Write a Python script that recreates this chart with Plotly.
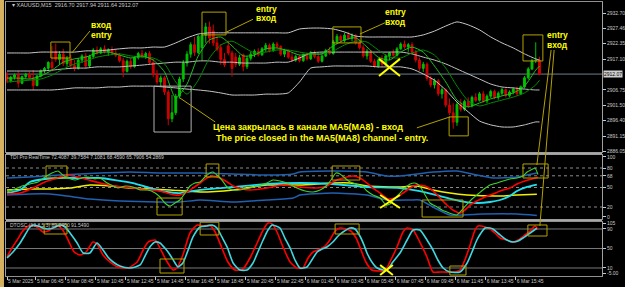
import plotly.graph_objects as go
from plotly.subplots import make_subplots

# ---------------- price candles (M15 XAUUSD) ----------------
OPEN = [2911.5, 2909.8, 2911.0, 2911.8, 2909.0, 2911.2, 2912.0, 2910.8, 2908.2, 2911.4,
        2913.2, 2914.0, 2916.0, 2919.8, 2917.0, 2918.8, 2915.6, 2917.4, 2915.0, 2914.0,
        2916.8, 2918.2, 2914.8, 2918.0, 2920.2, 2919.2, 2920.6, 2919.6, 2920.2, 2919.2,
        2918.4, 2916.6, 2913.0, 2916.4, 2914.6, 2917.6, 2919.0, 2918.0, 2919.0, 2916.0,
        2912.0, 2909.4, 2910.8, 2906.0, 2897.0, 2899.0, 2904.6, 2910.4, 2915.8, 2918.8,
        2922.0, 2919.4, 2921.0, 2925.2, 2928.0, 2926.6, 2922.6, 2921.0, 2917.0, 2921.6,
        2919.2, 2917.8, 2915.4, 2918.6, 2914.6, 2917.4, 2918.8, 2919.8, 2918.6, 2920.6,
        2921.8, 2920.0, 2922.2, 2921.4, 2918.8, 2920.0, 2917.8, 2916.8, 2918.0, 2916.6,
        2918.6, 2917.2, 2919.4, 2918.0, 2916.4, 2918.2, 2920.0, 2919.0, 2923.0, 2924.8,
        2923.4, 2925.2, 2924.2, 2925.0, 2922.6, 2921.0, 2918.2, 2919.8, 2916.4, 2914.8,
        2916.8, 2915.4, 2918.2, 2919.2, 2918.4, 2920.6, 2922.2, 2921.2, 2922.0, 2919.4,
        2916.8, 2914.0, 2915.4, 2910.6, 2908.4, 2909.8, 2905.4, 2906.8, 2901.6, 2899.0,
        2895.8, 2901.8, 2900.2, 2902.8, 2901.4, 2904.2, 2903.2, 2905.4, 2903.0, 2904.6,
        2906.2, 2904.2, 2905.6, 2906.8, 2904.8, 2906.0, 2907.0, 2905.4, 2907.8, 2910.8,
        2913.8, 2916.6, 2916.70]
HIGH = [2912.8, 2911.5, 2912.3, 2913.2, 2911.6, 2912.5, 2913.0, 2913.4, 2911.8, 2913.6,
        2914.5, 2916.4, 2921.5, 2922.4, 2919.8, 2920.6, 2918.2, 2918.6, 2916.8, 2917.4,
        2918.8, 2919.2, 2918.6, 2920.8, 2921.4, 2921.2, 2921.8, 2920.8, 2921.4, 2920.4,
        2919.2, 2917.6, 2917.0, 2917.4, 2918.2, 2919.6, 2920.2, 2919.6, 2919.8, 2917.2,
        2913.4, 2911.6, 2911.4, 2906.8, 2905.0, 2905.4, 2911.2, 2916.8, 2919.8, 2922.8,
        2924.6, 2925.4, 2926.0, 2929.4, 2929.8, 2928.8, 2924.8, 2922.2, 2919.2, 2923.4,
        2920.0, 2919.2, 2918.6, 2919.0, 2918.2, 2919.6, 2920.4, 2920.8, 2921.2, 2922.6,
        2922.4, 2922.8, 2923.0, 2921.8, 2920.6, 2920.4, 2919.2, 2918.6, 2918.6, 2919.0,
        2919.4, 2919.8, 2920.0, 2919.2, 2918.8, 2920.6, 2921.2, 2923.6, 2925.6, 2925.4,
        2926.0, 2926.4, 2925.8, 2925.6, 2923.8, 2921.8, 2920.6, 2920.2, 2917.2, 2917.6,
        2918.4, 2918.8, 2919.6, 2920.4, 2921.2, 2922.8, 2923.4, 2922.6, 2922.8, 2920.2,
        2917.6, 2916.2, 2916.0, 2911.4, 2910.6, 2910.4, 2907.6, 2907.2, 2903.8, 2902.2,
        2902.6, 2903.6, 2903.4, 2904.2, 2904.8, 2905.6, 2906.0, 2906.4, 2905.2, 2906.8,
        2906.8, 2906.2, 2907.4, 2907.2, 2906.6, 2907.6, 2907.8, 2908.2, 2911.4, 2914.4,
        2917.2, 2922.8, 2917.94]
LOW = [2909.0, 2909.2, 2910.2, 2907.5, 2908.6, 2910.5, 2910.4, 2906.8, 2907.9, 2911.0,
       2912.4, 2913.5, 2913.0, 2916.2, 2915.2, 2914.8, 2914.6, 2914.2, 2913.0, 2913.6,
       2915.8, 2913.8, 2914.2, 2917.4, 2918.6, 2918.8, 2919.0, 2918.2, 2918.8, 2917.8,
       2916.0, 2911.0, 2912.6, 2913.8, 2914.2, 2917.0, 2917.4, 2917.2, 2915.4, 2911.0,
       2908.6, 2908.0, 2905.0, 2894.8, 2895.8, 2898.2, 2903.8, 2909.4, 2914.6, 2917.6,
       2918.2, 2918.8, 2916.6, 2922.6, 2922.4, 2921.6, 2919.8, 2915.2, 2914.4, 2918.4,
       2911.2, 2914.4, 2914.8, 2913.0, 2913.8, 2916.6, 2917.8, 2918.0, 2918.2, 2919.6,
       2919.4, 2919.6, 2920.8, 2918.2, 2917.8, 2917.2, 2916.2, 2916.2, 2916.0, 2916.2,
       2916.6, 2916.8, 2917.4, 2915.8, 2916.0, 2917.8, 2918.6, 2918.6, 2922.2, 2922.6,
       2922.8, 2923.6, 2923.2, 2922.0, 2920.4, 2917.6, 2917.0, 2915.8, 2914.2, 2914.2,
       2914.6, 2914.8, 2916.8, 2917.8, 2918.0, 2920.2, 2920.6, 2919.6, 2918.8, 2916.0,
       2913.2, 2912.8, 2909.8, 2907.6, 2907.2, 2904.6, 2903.8, 2900.8, 2898.2, 2893.6,
       2894.6, 2899.4, 2899.6, 2900.6, 2900.8, 2902.6, 2902.8, 2902.4, 2902.2, 2904.0,
       2903.6, 2903.4, 2904.8, 2904.2, 2904.2, 2905.2, 2904.8, 2905.0, 2907.2, 2910.2,
       2913.4, 2915.8, 2911.64]
CLOSE = [2909.8, 2911.0, 2911.8, 2909.0, 2911.2, 2912.0, 2910.8, 2908.2, 2911.4, 2913.2,
         2914.0, 2916.0, 2914.2, 2917.0, 2918.8, 2915.6, 2917.4, 2915.0, 2914.0, 2916.8,
         2918.2, 2914.8, 2918.0, 2920.2, 2919.2, 2920.6, 2919.6, 2920.2, 2919.2, 2918.4,
         2916.6, 2913.0, 2916.4, 2914.6, 2917.6, 2919.0, 2918.0, 2919.0, 2916.0, 2912.0,
         2909.4, 2910.8, 2906.0, 2897.0, 2899.0, 2904.6, 2910.4, 2915.8, 2918.8, 2922.0,
         2919.4, 2924.8, 2925.2, 2928.0, 2924.2, 2922.6, 2920.4, 2917.0, 2915.2, 2919.2,
         2914.0, 2915.4, 2917.6, 2914.6, 2917.4, 2918.8, 2919.8, 2918.6, 2920.6, 2921.8,
         2920.0, 2922.2, 2921.4, 2918.8, 2920.0, 2917.8, 2916.8, 2918.0, 2916.6, 2918.6,
         2917.2, 2919.4, 2918.0, 2916.4, 2918.2, 2920.0, 2919.0, 2923.0, 2924.8, 2923.4,
         2925.2, 2924.2, 2925.0, 2922.6, 2921.0, 2918.2, 2919.8, 2916.4, 2914.8, 2916.8,
         2915.4, 2918.2, 2919.2, 2918.4, 2920.6, 2922.2, 2921.2, 2922.0, 2919.4, 2916.8,
         2914.0, 2915.4, 2910.6, 2908.4, 2909.8, 2905.4, 2906.8, 2901.6, 2899.0, 2895.8,
         2901.8, 2900.2, 2902.8, 2901.4, 2904.2, 2903.2, 2905.4, 2903.0, 2904.6, 2906.2,
         2904.2, 2905.6, 2906.8, 2904.8, 2906.0, 2907.0, 2905.4, 2907.8, 2910.8, 2913.8,
         2916.6, 2916.7, 2912.07]
BAR_IDX = list(range(len(CLOSE)))

# ---------------- envelope / moving averages (price pane) ----------------
BAND_IDX = [0, 3, 6, 9, 12, 15, 18, 21, 24, 27, 30, 33, 36, 39, 42, 45, 48, 51, 54, 57,
            60, 63, 66, 69, 72, 75, 78, 81, 84, 87, 90, 93, 96, 99, 102, 105, 108, 111,
            114, 117, 120, 123, 126, 129, 132, 135, 138, 141, 142]
BB_UPPER = [2919.2, 2919.2, 2919.2, 2919.5, 2919.5, 2919.5, 2919.5, 2919.9, 2919.9, 2920.2,
            2920.6, 2920.9, 2920.9, 2921.2, 2921.2, 2922.6, 2924.3, 2925.6, 2926.0, 2926.0,
            2926.0, 2926.0, 2926.0, 2926.0, 2926.0, 2926.0, 2927.3, 2927.6, 2927.6, 2927.3,
            2926.3, 2924.9, 2924.6, 2924.6, 2924.6, 2924.6, 2924.6, 2925.3, 2926.6, 2928.3,
            2929.7, 2928.7, 2927.0, 2924.6, 2922.6, 2920.9, 2918.9, 2917.2, 2916.8]
BB_MID = [2913.1, 2913.1, 2913.1, 2913.1, 2913.4, 2913.8, 2914.1, 2914.1, 2914.5, 2914.5,
          2914.5, 2914.8, 2915.1, 2915.5, 2915.8, 2916.1, 2916.1, 2916.5, 2916.5, 2916.1,
          2916.1, 2915.8, 2915.8, 2915.8, 2916.1, 2916.1, 2917.5, 2919.2, 2919.5, 2919.5,
          2919.5, 2919.5, 2919.5, 2919.5, 2919.5, 2919.5, 2918.9, 2917.8, 2916.8, 2915.5,
          2913.8, 2912.1, 2910.4, 2908.7, 2907.7, 2907.4, 2907.0, 2906.7, 2906.7]
BB_LOWER = [2906.7, 2906.7, 2906.7, 2906.7, 2906.7, 2907.0, 2907.4, 2907.4, 2907.4, 2907.7,
            2907.7, 2908.0, 2908.0, 2908.0, 2907.7, 2907.4, 2907.0, 2906.7, 2906.3, 2905.7,
            2905.0, 2905.0, 2905.0, 2905.3, 2905.3, 2905.7, 2909.4, 2914.1, 2914.5, 2914.8,
            2914.8, 2914.8, 2914.8, 2914.5, 2914.5, 2914.5, 2913.8, 2912.1, 2910.0, 2906.7,
            2902.6, 2899.3, 2896.2, 2894.9, 2894.2, 2894.2, 2894.9, 2895.9, 2895.9]
MA5 = [2910.7, 2910.7, 2910.4, 2911.4, 2913.4, 2916.1, 2917.2, 2917.8, 2919.2, 2919.5,
       2918.5, 2917.5, 2918.2, 2916.8, 2912.8, 2904.0, 2908.7, 2918.2, 2923.6, 2924.6,
       2921.6, 2918.2, 2918.5, 2920.6, 2920.9, 2919.9, 2918.5, 2918.9, 2918.9, 2921.6,
       2923.6, 2924.3, 2921.2, 2917.8, 2916.8, 2919.5, 2921.2, 2919.5, 2914.8, 2909.4,
       2903.3, 2901.0, 2902.3, 2903.7, 2904.7, 2905.7, 2908.0, 2913.4, 2914.8]
MA8 = [2909.4, 2909.7, 2910.0, 2910.4, 2911.7, 2913.8, 2915.5, 2916.5, 2917.8, 2918.5,
       2918.9, 2918.2, 2917.8, 2917.5, 2915.5, 2909.4, 2905.3, 2910.0, 2917.5, 2921.9,
       2923.2, 2921.2, 2919.2, 2919.5, 2920.2, 2920.2, 2919.5, 2918.9, 2918.9, 2919.9,
       2921.9, 2923.2, 2922.9, 2920.2, 2917.8, 2917.5, 2919.2, 2920.2, 2918.5, 2914.1,
       2908.0, 2903.0, 2901.3, 2902.3, 2903.3, 2904.3, 2905.7, 2908.4, 2910.0]
BID = 2912.07
PRICE_TICKS = [2932.70, 2927.46, 2922.35, 2917.10, 2906.75, 2901.50, 2896.40, 2891.15, 2886.05]

# ---------------- TDI ----------------
TDI_RSI_X = [0.0, 2.1, 4.0, 6.1, 8.3, 10.1, 12.0, 13.6, 14.9, 16.3, 18.1, 20.0, 21.6, 23.5, 24.8,
             26.7, 28.3, 29.6, 31.5, 33.6, 35.5, 37.6, 39.5, 40.8, 42.1, 43.5, 44.8, 46.1, 47.5,
             48.8, 50.1, 51.5, 52.8, 54.1, 54.9, 56.3, 57.3, 58.7, 60.3, 62.1, 64.8, 66.9, 69.3,
             70.9, 72.8, 74.7, 77.3, 79.5, 81.6, 83.5, 85.1, 86.4, 87.7, 88.8, 90.1, 91.5, 93.1,
             94.7, 96.0, 97.6, 99.5, 101.1, 102.1, 103.5, 104.8, 106.1, 107.5, 108.8, 110.1,
             111.5, 112.8, 114.7, 116.0, 117.3, 118.7, 120.0, 121.3, 122.7, 124.0, 125.3, 126.9,
             128.8, 130.7, 132.3, 134.1, 136.0, 137.6, 138.7, 139.7, 140.8, 141.6]
TDI_RSI = [43.1, 47.7, 52.3, 55.4, 58.5, 66.2, 72.3, 75.4, 69.2, 64.6, 61.5, 64.6, 66.2, 63.1, 64.6,
           56.9, 52.3, 49.2, 52.3, 50.8, 46.2, 46.2, 41.5, 35.4, 26.2, 21.5, 26.2, 30.8, 41.5,
           52.3, 56.9, 58.5, 66.2, 72.3, 73.8, 67.7, 61.5, 50.8, 46.2, 46.2, 49.2, 52.3, 56.9,
           61.5, 60.0, 56.9, 49.2, 44.6, 43.1, 46.2, 52.3, 61.5, 72.3, 70.8, 64.6, 58.5, 55.4,
           52.3, 44.6, 38.5, 33.8, 23.1, 24.6, 33.8, 41.5, 49.2, 55.4, 56.9, 52.3,
           38.5, 26.2, 20.0, 15.4, 12.3, 9.2, 7.7, 15.4, 24.6, 32.3, 38.5, 46.2,
           53.8, 56.9, 60.0, 63.1, 64.6, 67.7, 73.8, 76.9, 80.0, 70.0]
TDI_SIG_X = [0.0, 3.5, 6.9, 10.1, 13.3, 16.0, 17.6, 20.8, 24.8, 28.8, 33.6, 38.1, 40.8, 42.7, 44.8,
             46.1, 48.0, 49.6, 51.5, 53.3, 54.9, 56.8, 58.7, 60.3, 62.7, 64.8, 67.5, 69.3, 73.6,
             78.1, 82.7, 85.3, 86.9, 89.6, 92.3, 94.1, 96.0, 97.6, 99.5, 101.6, 103.5, 105.6,
             107.5, 109.3, 111.5, 113.3, 115.5, 117.3, 118.9, 120.8, 122.1, 123.5, 125.3, 127.5,
             129.6, 131.5, 134.1, 136.0, 138.1, 140.0, 141.6]
TDI_SIG = [40.0, 41.5, 49.2, 58.5, 64.6, 69.2, 67.7, 63.1, 56.9, 52.3, 49.2, 46.2, 44.6, 41.5, 38.5,
           38.5, 43.1, 49.2, 56.9, 64.6, 67.7, 64.6, 58.5, 52.3, 47.7, 46.2, 47.7, 49.2, 53.8,
           50.8, 49.2, 52.3, 58.5, 64.6, 67.7, 64.6, 56.9, 49.2, 41.5, 32.3, 33.8, 41.5,
           49.2, 53.8, 52.3, 46.2, 33.8, 23.1, 15.4, 10.8, 15.4, 23.1, 29.2, 35.4,
           40.0, 44.6, 49.2, 55.4, 60.0, 63.1, 65.8]
TDI_MB_X = [0.0, 3.5, 6.1, 10.1, 14.1, 19.5, 24.8, 28.8, 33.6, 38.1, 42.7, 46.1, 51.5, 60.3, 69.3,
            78.1, 86.9, 96.0, 104.8, 110.1, 115.5, 120.8, 125.3, 128.8, 131.5, 134.1, 136.0,
            138.7, 141.3]
TDI_MB = [41.5, 46.2, 58.5, 63.1, 64.6, 64.6, 64.6, 61.5, 56.9, 49.2, 43.1, 41.5, 46.2, 50.8, 55.4,
          56.9, 55.4, 50.8, 49.2, 44.6, 36.9, 29.2, 26.2, 27.7, 30.8, 36.9, 44.6, 50.8, 54.3]
TDI_YEL_X = [0.0, 6.1, 11.5, 16.8, 22.1, 27.5, 32.8, 38.1, 43.5, 51.5, 60.3, 69.3, 78.1, 86.9,
             91.5, 96.0, 104.8, 109.3, 113.6, 118.1, 122.7, 131.5, 136.0, 141.3]
TDI_YEL = [46.2, 47.7, 47.7, 49.2, 53.8, 52.3, 49.2, 47.7, 46.2, 43.1, 46.2, 53.8, 53.8, 56.9,
           56.9, 52.3, 50.8, 52.3, 46.2, 41.5, 38.5, 36.9, 38.5, 39.8]
TDI_UP_X = [0.0, 6.1, 14.1, 24.8, 32.8, 40.8, 51.5, 60.3, 69.3, 76.3, 78.1, 86.9, 96.0, 101.3,
            104.8, 113.6, 120.0, 125.3, 129.6, 136.0, 141.3]
TDI_UP = [64.6, 66.2, 69.2, 72.3, 73.8, 72.3, 72.3, 70.8, 69.2, 70.8, 73.8, 75.4, 73.8, 67.7,
          67.7, 73.8, 75.4, 69.2, 64.6, 66.2, 72.4]
TDI_LO_X = [0.0, 6.1, 11.5, 16.0, 22.1, 30.1, 40.0, 46.1, 51.5, 60.3, 69.3, 76.3, 78.1, 86.9,
            96.0, 101.3, 107.5, 110.1, 114.1, 118.1, 126.9, 136.0, 141.3]
TDI_LO = [38.5, 40.0, 40.0, 36.9, 32.3, 29.2, 27.7, 27.7, 30.8, 27.7, 30.8, 33.8, 38.5, 41.5,
          38.5, 30.8, 30.8, 30.8, 18.5, 7.7, 9.2, 9.2, 7.1]
TDI_LEVELS = [80, 68, 50, 20]
TDI_TICKS = [97, 80, 68, 50, 20, 5]
TDI_TICKTEXT = ["100", "80", "68", "50", "20", "0"]

# ---------------- DTOSC ----------------
DT_MAIN_X = [0.0, 1.3, 2.7, 4.0, 5.3, 6.4, 7.7, 9.6, 10.9, 12.3, 13.6, 14.7, 16.3, 17.9, 19.5,
             21.1, 22.9, 24.0, 25.6, 27.5, 29.6, 32.3, 34.7, 36.3, 37.6, 39.5, 40.8, 42.4, 44.3,
             45.3, 46.9, 48.8, 50.7, 52.3, 54.1, 55.5, 57.3, 58.9, 60.8, 62.9, 64.8, 66.7, 68.3,
             69.6, 70.7, 72.0, 73.6, 75.5, 77.3, 78.9, 80.3, 81.6, 82.9, 84.8, 86.1, 87.5, 88.8,
             90.4, 91.7, 93.1, 94.4, 95.7, 97.3, 99.5, 100.8, 102.1, 104.0, 105.6, 106.7, 108.3,
             110.1, 112.0, 113.6, 115.5, 118.9, 120.8, 122.1, 123.5, 124.8, 125.6, 127.5, 128.8,
             130.4, 131.5, 133.3, 134.9, 136.3, 138.1, 139.5, 140.8, 141.6]
DT_MAIN = [32.6, 51.0, 67.4, 83.8, 94.1, 98.2, 96.2, 83.8, 85.9, 92.1, 96.2, 90.0, 67.4, 42.8, 36.7,
           42.8, 63.3, 59.2, 36.7, 22.3, 12.1, 10.0, 22.3, 46.9, 63.3, 67.4, 51.0, 26.4, 5.9,
           10.0, 36.7, 81.8, 98.2, 96.2, 98.2, 83.8, 51.0, 22.3, 5.9, 8.0, 30.5, 61.3, 87.9,
           102.3, 100.3, 83.8, 53.1, 22.3, 10.0, 10.0, 30.5, 42.8, 46.9, 55.1, 67.4, 85.9, 92.1,
           90.0, 85.9, 71.5, 46.9, 22.3, 5.9, 3.8, 3.8, 22.3, 53.1, 83.8, 92.1, 87.9,
           63.3, 32.6, 1.8, 1.8, 1.8, 5.9, 26.4, 57.2, 87.9, 96.2, 94.1, 90.0,
           79.7, 71.5, 67.4, 63.3, 67.4, 77.7, 85.9, 96.2, 89.0]
DT_SIG_X = [0.0, 1.6, 3.5, 4.8, 6.1, 6.9, 8.3, 9.6, 10.9, 12.3, 14.1, 15.5, 16.8, 18.7, 20.3,
            22.1, 24.0, 25.6, 26.9, 28.3, 30.1, 32.8, 35.5, 36.8, 38.1, 39.5, 40.8, 42.1, 43.5,
            44.8, 45.6, 46.9, 48.3, 49.6, 51.5, 53.3, 54.7, 56.0, 57.3, 58.7, 60.3, 62.1, 64.0,
            65.6, 66.9, 68.3, 69.6, 70.7, 71.7, 72.8, 74.1, 75.5, 76.8, 78.1, 80.0, 81.3, 82.7,
            84.0, 85.3, 86.9, 88.3, 89.6, 91.5, 92.8, 94.1, 95.2, 96.0, 97.3, 98.7, 100.3,
            101.3, 102.9, 104.8, 106.7, 108.3, 110.1, 112.0, 113.6, 114.9, 116.3, 118.1, 120.8,
            122.7, 124.0, 125.3, 126.4, 127.5, 128.8, 129.6, 131.5, 133.3, 134.9, 136.3, 137.6,
            139.5, 141.3]
DT_SIG = [30.5, 42.8, 61.3, 77.7, 94.1, 98.2, 96.2, 92.1, 90.0, 92.1, 98.2, 94.1, 81.8, 61.3, 40.8,
          40.8, 61.3, 46.9, 32.6, 22.3, 14.1, 10.0, 16.2, 34.6, 53.1, 63.3, 61.3, 51.0, 36.7,
          20.3, 12.1, 20.3, 46.9, 73.6, 94.1, 96.2, 98.2, 92.1, 73.6, 53.1, 20.3, 5.9, 5.9,
          20.3, 42.8, 67.4, 87.9, 98.2, 96.2, 92.1, 71.5, 51.0, 26.4, 10.0, 12.1, 26.4, 42.8,
          49.0, 53.1, 63.3, 75.6, 83.8, 92.1, 90.0, 75.6, 57.2, 40.8, 22.3, 10.0, 5.9,
          5.9, 22.3, 40.8, 67.4, 87.9, 87.9, 67.4, 46.9, 26.4, 10.0, 1.8, 1.8,
          20.3, 42.8, 67.4, 81.8, 92.1, 92.1, 90.0, 77.7, 67.4, 63.3, 65.4, 71.5,
          81.8, 91.5]
DT_LEVELS = [90, 50, 10]
DT_TICKS = [102, 90, 50, 10, -1.5]
DT_TICKTEXT = ["105", "90", "50", "10", "-5.00"]

# ---------------- time axis ----------------
TICK_IDX = [0, 7.7, 15.7, 23.7, 31.7, 39.7, 47.7, 55.7, 63.7, 71.7, 79.7, 87.7, 95.7, 103.7,
            111.7, 119.7, 127.7, 135.7]
TICK_LABELS = ["5 Mar 2025", "5 Mar 06:45", "5 Mar 08:45", "5 Mar 10:45", "5 Mar 12:45",
               "5 Mar 14:45", "5 Mar 16:45", "5 Mar 18:45", "5 Mar 20:45", "5 Mar 22:45",
               "6 Mar 01:45", "6 Mar 03:45", "6 Mar 05:45", "6 Mar 07:45", "6 Mar 09:45",
               "6 Mar 11:45", "6 Mar 13:45", "6 Mar 15:45"]

# ---------------- figure ----------------
FONT = "Liberation Sans, Arial, sans-serif"
AXC = "#C8C8C8"
fig = make_subplots(rows=3, cols=1, shared_xaxes=True, vertical_spacing=0.0)

fig.add_trace(go.Candlestick(
    x=BAR_IDX, open=OPEN, high=HIGH, low=LOW, close=CLOSE, whiskerwidth=0,
    increasing=dict(line=dict(color="#00C000", width=1), fillcolor="#00C000"),
    decreasing=dict(line=dict(color="#D00000", width=1), fillcolor="#D00000")), row=1, col=1)

for ys, col in [(BB_UPPER, "#C8C8C8"), (BB_MID, "#C0C0C0"), (BB_LOWER, "#C8C8C8"),
                (MA8, "#008C00"), (MA5, "#20C020")]:
    fig.add_trace(go.Scatter(x=BAND_IDX, y=ys, mode="lines", line=dict(color=col, width=1, shape="spline", smoothing=0.6)), row=1, col=1)

for xs, ys, col, w in [(TDI_UP_X, TDI_UP, "#2060B0", 1.5), (TDI_LO_X, TDI_LO, "#2060B0", 1.5),
                       (TDI_YEL_X, TDI_YEL, "#F0F000", 1.5), (TDI_MB_X, TDI_MB, "#20E0F0", 1.8),
                       (TDI_SIG_X, TDI_SIG, "#FF0000", 1.6), (TDI_RSI_X, TDI_RSI, "#40D030", 1.1)]:
    fig.add_trace(go.Scatter(x=xs, y=ys, mode="lines", line=dict(color=col, width=w, shape="spline", smoothing=0.5)), row=2, col=1)

for xs, ys, col in [(DT_MAIN_X, DT_MAIN, "#FF0000"), (DT_SIG_X, DT_SIG, "#40D8E0")]:
    fig.add_trace(go.Scatter(x=xs, y=ys, mode="lines", line=dict(color=col, width=1.6, shape="spline", smoothing=0.6)), row=3, col=1)

XR = [-0.27, 158.67]
fig.update_layout(
    width=625, height=287, margin=dict(l=6, r=23, t=2, b=11, autoexpand=False),
    paper_bgcolor="black", plot_bgcolor="black", showlegend=False,
    font=dict(family=FONT, color=AXC, size=5.5),
)
common_x = dict(range=XR, showgrid=False, zeroline=False, showline=True, linecolor="#909090",
                mirror=True, rangeslider=dict(visible=False), fixedrange=True, automargin=False)
fig.update_xaxes(**common_x)
fig.update_xaxes(showticklabels=False, ticks="", row=1, col=1)
fig.update_xaxes(showticklabels=False, ticks="", row=2, col=1)
fig.update_xaxes(tickvals=TICK_IDX, ticktext=TICK_LABELS, ticks="outside", ticklen=3,
                 tickangle=0, tickcolor=AXC, ticklabelposition="outside right",
                 tickfont=dict(size=5, color=AXC, family=FONT), row=3, col=1)

ycommon = dict(side="right", showgrid=False, zeroline=False, showline=True, linecolor="#A0A0A0",
               mirror=True, ticks="outside", ticklen=3, tickcolor=AXC, automargin=False,
               tickfont=dict(size=5, color=AXC, family=FONT))
fig.update_layout(
    yaxis=dict(domain=[0.4526, 1.0], range=[2885.75, 2936.42],
               tickvals=PRICE_TICKS, ticktext=[f"{v:.2f}" for v in PRICE_TICKS], **ycommon),
    yaxis2=dict(domain=[0.2080, 0.4416], range=[1.54, 100.0],
                tickvals=TDI_TICKS, ticktext=TDI_TICKTEXT, **ycommon),
    yaxis3=dict(domain=[0.0, 0.1971], range=[-6.41, 104.36],
                tickvals=DT_TICKS, ticktext=DT_TICKTEXT, **ycommon),
)

shapes = []
shapes.append(dict(type="line", xref="x domain", yref="y", x0=0, x1=1, y0=BID, y1=BID,
                   line=dict(color="#6E7E8E", width=1), layer="below"))
for lv in TDI_LEVELS:
    shapes.append(dict(type="line", xref="x2 domain", yref="y2", x0=0, x1=1, y0=lv, y1=lv,
                       line=dict(color="#8A8A8A", width=1, dash="dot"), layer="below"))
for lv in DT_LEVELS:
    shapes.append(dict(type="line", xref="x3 domain", yref="y3", x0=0, x1=1, y0=lv, y1=lv,
                       line=dict(color="#7A7A7A", width=1), layer="below"))
for y0, y1 in [(0.4434, 0.4507), (0.2007, 0.2062)]:
    shapes.append(dict(type="rect", xref="paper", yref="paper", x0=0, x1=1, y0=y0, y1=y1,
                       fillcolor="#A8A8A8", line=dict(width=0), layer="above"))
shapes.append(dict(type="rect", xref="paper", yref="paper", x0=-0.0101, x1=-0.0034, y0=-0.0401, y1=1.0073,
                   fillcolor="#D6B160", line=dict(width=0), layer="above"))

OLIVE = "#B4A200"
def box(xr, yr, x0, x1, y0, y1, col=OLIVE):
    shapes.append(dict(type="rect", xref=xr, yref=yr, x0=x0, x1=x1, y0=y0, y1=y1,
                       line=dict(color=col, width=1), fillcolor="rgba(0,0,0,0)", layer="above"))

def seg(xr, yr, x0, y0, x1, y1, col=OLIVE, w=1):
    shapes.append(dict(type="line", xref=xr, yref=yr, x0=x0, y0=y0, x1=x1, y1=y1,
                       line=dict(color=col, width=w), layer="above"))

box("x", "y", 11.7, 16.8, 2917.5, 2922.9)
box("x", "y", 39.2, 49.1, 2892.5, 2908.0, "#B0B0B0")
box("x", "y", 52.0, 58.4, 2925.3, 2933.0)
box("x", "y", 86.9, 94.4, 2922.6, 2928.0)
box("x", "y", 117.9, 123.0, 2891.2, 2897.6)
box("x", "y", 137.6, 142.9, 2916.5, 2925.3)
box("x2", "y2", 10.4, 16.0, 64.6, 83.1)
box("x2", "y2", 53.1, 56.5, 66.2, 86.2)
box("x2", "y2", 86.7, 94.1, 61.5, 83.1)
box("x2", "y2", 40.0, 46.7, 7.7, 33.8)
box("x2", "y2", 110.7, 121.6, 4.6, 30.8)
box("x2", "y2", 137.6, 144.3, 64.6, 86.2)
box("x3", "y3", 9.9, 16.0, 79.7, 100.3)
box("x3", "y3", 40.8, 47.2, -0.3, 28.5)
box("x3", "y3", 51.5, 56.5, 77.7, 104.0)
box("x3", "y3", 87.5, 93.9, 79.7, 100.3)
box("x3", "y3", 118.1, 122.4, -4.4, 14.1)
box("x3", "y3", 138.9, 144.0, 75.6, 98.2)
YEL = "#FFFF00"
for xr, yr, x0, x1, y0, y1 in [("x", "y", 99.2, 104.8, 2911.4, 2917.2),
                               ("x2", "y2", 99.5, 104.8, 18.5, 38.5),
                               ("x3", "y3", 99.5, 102.9, -4.4, 16.2)]:
    seg(xr, yr, x0, y0, x1, y1, YEL, 2)
    seg(xr, yr, x0, y1, x1, y0, YEL, 2)
seg("x", "y", 22.1, 2926.6, 17.3, 2919.2)
seg("x", "y", 65.6, 2930.6, 58.1, 2926.0)
seg("x", "y", 100.8, 2929.4, 94.1, 2925.6)
seg("x", "y", 46.1, 2904.0, 55.5, 2895.9)
seg("x", "y", 109.3, 2893.9, 118.1, 2897.6)
seg("x", "paper", 145.1, 0.8248, 141.3, 0.4051)
seg("x", "paper", 145.9, 0.8248, 142.1, 0.1825)
fig.update_layout(shapes=shapes)

ann = []
def label(x, y, t, size=8.5):
    ann.append(dict(x=x, y=y, xref="x", yref="y", text=f"<b>{t}</b>", showarrow=False,
                    font=dict(color=YEL, size=size, family=FONT)))
label(25.3, 2928.5, "вход"); label(25.3, 2925.2, "entry")
label(69.3, 2934.1, "entry"); label(69.3, 2930.9, "вход")
label(103.7, 2932.9, "entry"); label(103.7, 2929.8, "вход")
label(146.9, 2925.2, "entry"); label(146.9, 2922.0, "вход")
label(80.3, 2894.2, "Цена закрылась в канале MA5(MA8) - вход", 9)
label(84.0, 2890.5, "The price closed in the MA5(MA8) channel - entry.", 9)

ann.append(dict(x=0.006, y=0.989, xref="paper", yref="paper", xanchor="left", yanchor="middle",
                text="▾ XAUUSD,M15  2916.70 2917.94 2911.64 2912.07", showarrow=False,
                font=dict(size=5.5, color=AXC, family=FONT)))
ann.append(dict(x=0.0034, y=0.4343, xref="paper", yref="paper", xanchor="left", yanchor="middle",
                text="TDI Pro RealTime 72.4087 39.7584 7.1081 68.4590 65.7906 54.2869", showarrow=False,
                font=dict(size=5, color=AXC, family=FONT)))
ann.append(dict(x=0.0034, y=0.1861, xref="paper", yref="paper", xanchor="left", yanchor="middle",
                text="DTOSC (13,8,5,3) 89.0460 91.5490", showarrow=False,
                font=dict(size=5, color=AXC, family=FONT)))
ann.append(dict(x=1.0, y=BID, xref="paper", yref="y", xanchor="left", yanchor="middle", xshift=1,
                text="2912.07", showarrow=False, bgcolor="#D0D0D0", borderpad=0,
                font=dict(size=5, color="black", family=FONT)))
fig.update_layout(annotations=ann)

fig.write_html("out.html")
